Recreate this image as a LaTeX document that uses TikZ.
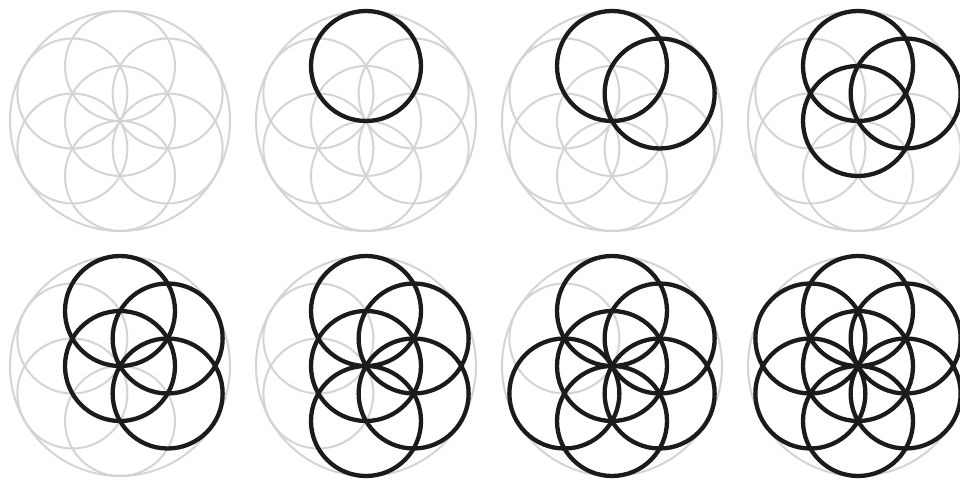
\documentclass[tikz,border=0pt]{standalone}
\definecolor{ghost}{HTML}{D4D4D4}
\definecolor{ink}{HTML}{1B1B1B}
\tikzset{
  guide/.style={draw=ghost,line width=2pt},
  bold/.style={draw=ink,line width=4.3pt}
}
\begin{document}
\begin{tikzpicture}[x=1pt,y=1pt]
\fill[white] (0,0) rectangle (960,479);
\useasboundingbox (0,0) rectangle (960,479);
\foreach \cx/\cy [count=\i] in {120/358,366/358,612/358,858/358,120/113,366/113,612/113,858/113}{
  \coordinate (p\i) at (\cx,\cy);
  \draw[guide] (p\i) circle[radius=110];
  \draw[guide] (p\i) circle[radius=55];
  \foreach \a in {90,30,-30,-90,-150,150}{
    \draw[guide] (p\i) ++(\a:55) circle[radius=55];
  }
  \foreach \a/\r [count=\k] in {90/55,30/55,0/0,-30/55,-90/55,210/55,150/55}{
    \ifnum\k<\i
      \draw[bold] (p\i) ++(\a:\r) circle[radius=55];
    \fi
  }
}
\end{tikzpicture}
\end{document}
